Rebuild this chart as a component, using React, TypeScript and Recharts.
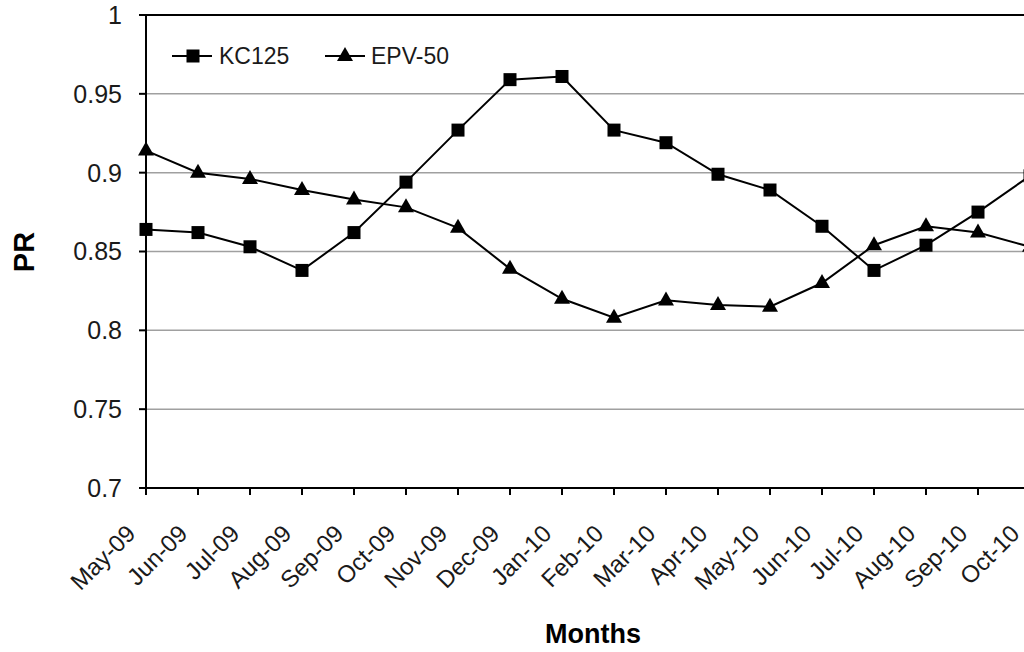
import React from 'react';
import { LineChart, Line, XAxis, YAxis, CartesianGrid, ReferenceLine, Legend, Label } from 'recharts';

const months = [
  'May-09', 'Jun-09', 'Jul-09', 'Aug-09', 'Sep-09', 'Oct-09', 'Nov-09', 'Dec-09',
  'Jan-10', 'Feb-10', 'Mar-10', 'Apr-10', 'May-10', 'Jun-10', 'Jul-10', 'Aug-10', 'Sep-10', 'Oct-10',
];
const kc125 = [0.864, 0.862, 0.853, 0.838, 0.862, 0.894, 0.927, 0.959, 0.961, 0.927, 0.919, 0.899, 0.889, 0.866, 0.838, 0.854, 0.875, 0.898];
const epv50 = [0.914, 0.900, 0.896, 0.889, 0.883, 0.878, 0.865, 0.839, 0.820, 0.808, 0.819, 0.816, 0.815, 0.830, 0.854, 0.866, 0.862, 0.853];
const yTicks = [0.7, 0.75, 0.8, 0.85, 0.9, 0.95, 1];
const yTickLabels = ['0.7', '0.75', '0.8', '0.85', '0.9', '0.95', '1'];
const seriesNames = ['KC125', 'EPV-50'];

const data = months.map((m, i) => ({ month: m, KC125: kc125[i], EPV50: epv50[i] }));

const FONT = '"Liberation Sans", Arial, sans-serif';

const XTick = (props: any) => {
  const { x, y, payload } = props;
  const ax = x - 9;
  const ay = y + 2;
  return (
    <text x={ax} y={ay} transform={`rotate(-45 ${ax} ${ay})`} textAnchor="end" fontSize={24} fontFamily={FONT} fill="#1a1a1a">
      {payload.value}
    </text>
  );
};

const SquareDot = (props: any) => {
  const { cx, cy, index } = props;
  if (cx == null || cy == null) return <g key={`s${index}`} />;
  return <rect key={`s${index}`} x={cx - 6.5} y={cy - 6.5} width={13} height={13} fill="#000" />;
};

const TriDot = (props: any) => {
  const { cx, cy, index } = props;
  if (cx == null || cy == null) return <g key={`t${index}`} />;
  return <polygon key={`t${index}`} points={`${cx},${cy - 9} ${cx - 8},${cy + 5} ${cx + 8},${cy + 5}`} fill="#000" />;
};

const LegendContent = () => (
  <svg width={320} height={36} style={{ display: 'block' }}>
    <line x1={12} y1={18} x2={52} y2={18} stroke="#000" strokeWidth={2} />
    <rect x={26.5} y={11.5} width={13} height={13} fill="#000" />
    <text x={59} y={26} fontSize={23} fontFamily={FONT} fill="#1a1a1a">{seriesNames[0]}</text>
    <line x1={165} y1={18} x2={205} y2={18} stroke="#000" strokeWidth={2} />
    <polygon points="185,9 177,23 193,23" fill="#000" />
    <text x={211} y={26} fontSize={23} fontFamily={FONT} fill="#1a1a1a">{seriesNames[1]}</text>
  </svg>
);

export default function App() {
  return (
    <div style={{ position: 'absolute', left: 0, top: 0, width: 1024, height: 652, overflow: 'hidden', background: '#fff' }}>
      <LineChart width={1100} height={652} data={data} margin={{ top: 15, right: 70, bottom: 0, left: 0 }}>
        <CartesianGrid vertical={false} stroke="#a0a0a0" strokeWidth={1.5} />
        <ReferenceLine y={1} stroke="#000" strokeWidth={2} />
        <XAxis
          dataKey="month"
          interval={0}
          height={164}
          tickSize={7}
          tickMargin={38}
          tick={<XTick />}
          padding={{ left: 0, right: 0 }}
          axisLine={{ stroke: '#000', strokeWidth: 2 }}
          tickLine={{ stroke: '#000', strokeWidth: 2 }}
        >
          <Label
            content={() => (
              <text x={593} y={643} textAnchor="middle" fontSize={27} fontWeight="bold" fontFamily={FONT} fill="#000">Months</text>
            )}
          />
        </XAxis>
        <YAxis
          type="number"
          domain={[0.7, 1]}
          ticks={yTicks}
          interval={0}
          width={146}
          tickSize={7}
          tickMargin={17}
          tickFormatter={(v: number) => yTickLabels[yTicks.indexOf(v)] ?? String(v)}
          tick={{ fill: '#1a1a1a', fontSize: 25, fontFamily: FONT }}
          axisLine={{ stroke: '#000', strokeWidth: 2 }}
          tickLine={{ stroke: '#000', strokeWidth: 2 }}
        >
          <Label
            content={() => (
              <text x={34} y={252} transform="rotate(-90 34 252)" textAnchor="middle" fontSize={29} fontWeight="bold" fontFamily={FONT} fill="#000">PR</text>
            )}
          />
        </YAxis>
        <Legend
          verticalAlign="middle"
          align="center"
          layout="horizontal"
          wrapperStyle={{ left: 160, top: 38, width: 320, height: 36 }}
          content={() => <LegendContent />}
        />
        <Line type="linear" dataKey="KC125" name={seriesNames[0]} stroke="#000" strokeWidth={2} dot={SquareDot} activeDot={false} isAnimationActive={false} />
        <Line type="linear" dataKey="EPV50" name={seriesNames[1]} stroke="#000" strokeWidth={2} dot={TriDot} activeDot={false} isAnimationActive={false} />
      </LineChart>
    </div>
  );
}
